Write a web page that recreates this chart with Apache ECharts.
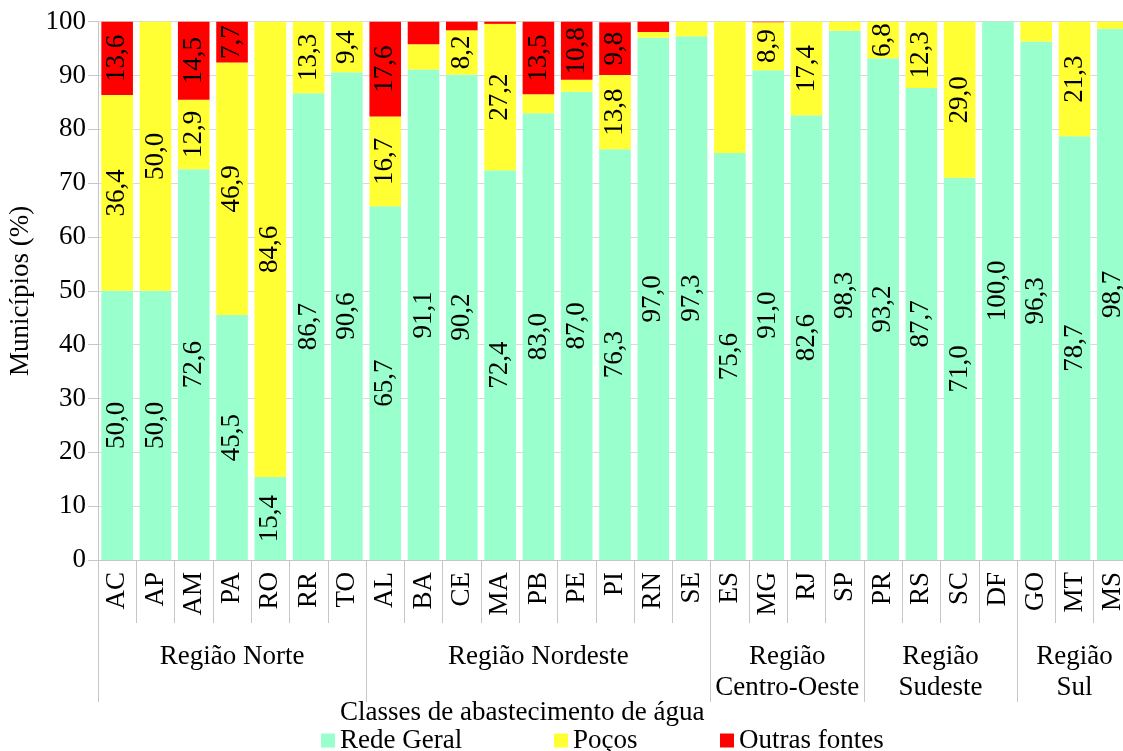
<!DOCTYPE html>
<html><head><meta charset="utf-8">
<script src="https://cdn.jsdelivr.net/npm/echarts@6/dist/echarts.min.js"></script>
<style>html,body{margin:0;padding:0;background:#fff}#c{width:1123px;height:751px}</style>
</head><body><div id="c"></div>
<script>
const states = ['AC','AP','AM','PA','RO','RR','TO','AL','BA','CE','MA','PB','PE','PI','RN','SE','ES','MG','RJ','SP','PR','RS','SC','DF','GO','MT','MS'];
const regions = ['Região Norte','Região Nordeste','Região\nCentro-Oeste','Região\nSudeste','Região\nSul'];
const regionSizes = [7,9,4,4,3];
const rede   = [50.0,50.0,72.6,45.5,15.4,86.7,90.6,65.7,91.1,90.2,72.4,83.0,87.0,76.3,97.0,97.3,75.6,91.0,82.6,98.3,93.2,87.7,71.0,100.0,96.3,78.7,98.7];
const pocos  = [36.4,50.0,12.9,46.9,84.6,13.3,9.4,16.7,4.7,8.2,27.2,3.5,2.2,13.8,1.1,2.7,24.4,8.9,17.4,1.7,6.8,12.3,29.0,0,3.7,21.3,1.3];
const outras = [13.6,0,14.5,7.7,0,0,0,17.6,4.2,1.6,0.4,13.5,10.8,9.8,1.9,0,0,0.1,0,0,0,0,0,0,0,0,0];
const seriesNames = ['Rede Geral','Poços','Outras fontes'];
const unlabeled = {'Poços': ['ES']};
const yMin = 0, yMax = 100, yStep = 10;
const xTitle = 'Classes de abastecimento de água';
const yTitle = 'Municípios (%)';

const colors = ['#99FFCC','#FFFF33','#FF0000'];
const font = "'Liberation Serif', 'Times New Roman', serif";
const gridC = '#d9d9d9', axisC = '#c6c6c6';

const boundaries = [0];
regionSizes.forEach(n => boundaries.push(boundaries[boundaries.length-1] + n));
const centers = regionSizes.map((n,i) => boundaries[i] + n/2);

const fmt = v => v.toFixed(1).replace('.', ',');
const mkSeries = (name, data, i) => ({
  name, type: 'bar', stack: 'total', data,
  xAxisIndex: 0, barCategoryGap: '17.5%',
  itemStyle: {color: colors[i]},
  label: {
    show: true, position: 'inside', rotate: 90, color: '#000',
    fontFamily: font, fontSize: 27,
    formatter: p => (p.value >= 5 && !(unlabeled[p.seriesName] || []).includes(p.name)) ? fmt(p.value) : ''
  }
});

const chart = echarts.init(document.getElementById('c'), null, {renderer: 'canvas'});
chart.setOption({
  animation: false,
  backgroundColor: '#fff',
  textStyle: {fontFamily: font},
  title: {text: xTitle, left: 340, top: 699, padding: 0,
    textStyle: {fontFamily: font, fontSize: 27, fontWeight: 'normal', color: '#000'}},
  legend: seriesNames.map((n, i) => ({
    data: [n], left: [321, 554, 720][i], top: 727, padding: 0,
    itemWidth: 14, itemHeight: 14, icon: 'rect',
    textStyle: {fontFamily: font, fontSize: 27, color: '#000'}
  })),
  grid: {left: 98, top: 21.7, width: 1034, bottom: 191, containLabel: false, outerBoundsMode: 'none'},
  xAxis: [{
    type: 'category', data: states, position: 'bottom',
    axisLine: {show: true, lineStyle: {color: axisC}},
    axisTick: {show: true, interval: 0, length: 63, lineStyle: {color: axisC}},
    axisLabel: {interval: 0, rotate: 90, margin: 12, fontFamily: font, fontSize: 27, color: '#000'}
  }, {
    type: 'value', min: 0, max: states.length, position: 'bottom',
    axisLine: {show: false}, splitLine: {show: false},
    axisTick: {show: true, customValues: boundaries, length: 142, lineStyle: {color: axisC}},
    axisLabel: {customValues: centers, formatter: v => regions[centers.indexOf(v)] || '',
      margin: 81, fontFamily: font, fontSize: 27, lineHeight: 31, color: '#000', align: 'center'}
  }],
  yAxis: {
    type: 'value', min: yMin, max: yMax, interval: yStep,
    name: yTitle, nameLocation: 'middle', nameGap: 58, nameRotate: 90,
    nameTextStyle: {fontFamily: font, fontSize: 27, color: '#000'},
    axisLine: {show: true, lineStyle: {color: axisC}},
    axisTick: {show: true, length: 10, lineStyle: {color: axisC}},
    axisLabel: {margin: 12, fontFamily: font, fontSize: 27, color: '#000'},
    splitLine: {show: true, lineStyle: {color: gridC}}
  },
  series: [mkSeries(seriesNames[0], rede, 0), mkSeries(seriesNames[1], pocos, 1), mkSeries(seriesNames[2], outras, 2)]
});
</script></body></html>
